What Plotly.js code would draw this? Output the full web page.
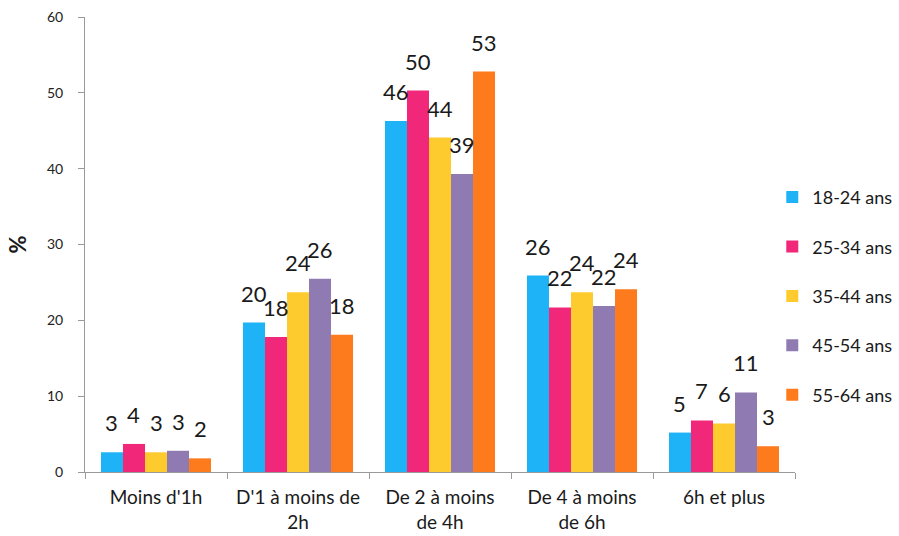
<!DOCTYPE html>
<html>
<head>
<meta charset="utf-8">
<script src="https://cdn.plot.ly/plotly-3.0.1.min.js"></script>
<style>html,body{margin:0;padding:0;background:#fff;}#chart{width:899px;height:536px;}</style>
</head>
<body>
<div id="chart"></div>
<script>
const categories = ["Moins d'1h", "D'1 à moins de<br>2h", "De 2 à moins<br>de 4h", "De 4 à moins<br>de 6h", "6h et plus"];
const seriesNames = ["18-24 ans", "25-34 ans", "35-44 ans", "45-54 ans", "55-64 ans"];
const v18_24 = [2.6, 19.7, 46.3, 25.9, 5.2];
const v25_34 = [3.7, 17.8, 50.3, 21.7, 6.8];
const v35_44 = [2.6, 23.7, 44.1, 23.7, 6.4];
const v45_54 = [2.8, 25.5, 39.3, 21.9, 10.5];
const v55_64 = [1.8, 18.1, 52.8, 24.1, 3.4];
const l18_24 = ["3", "20", "46", "26", "5"];
const l25_34 = ["4", "18", "50", "22", "7"];
const l35_44 = ["3", "24", "44", "24", "6"];
const l45_54 = ["3", "26", "39", "22", "11"];
const l55_64 = ["2", "18", "53", "24", "3"];
const yTicks = [0, 10, 20, 30, 40, 50, 60];

const values = [v18_24, v25_34, v35_44, v45_54, v55_64];
const labels = [l18_24, l25_34, l35_44, l45_54, l55_64];
const colors = ["#1db3f6", "#f1287a", "#fdcb2e", "#8f7bb1", "#fd7a1d"];
const FONT = "Lato, 'Open Sans', sans-serif";

const W = 899, H = 536;
const margin = {l: 85, r: 104, t: 17, b: 64, autoexpand: false};
const bargap = 0.225;
const catPx = (W - margin.l - margin.r) / categories.length;
const barPx = catPx * (1 - bargap) / seriesNames.length;

const traces = seriesNames.map((name, i) => ({
  type: "bar",
  name: name,
  x: categories,
  y: values[i],
  marker: {color: colors[i]},
  legendgroup: "g" + i,
  hoverinfo: "x+y+name"
}));

const annotations = [];
values.forEach((vals, i) => {
  vals.forEach((v, j) => {
    annotations.push({
      x: categories[j], y: v, xref: "x", yref: "y",
      text: labels[i][j], showarrow: false,
      xanchor: "center", yanchor: "bottom",
      xshift: (i - 2) * barPx, yshift: 14,
      font: {family: FONT, size: 22, color: "#1a1a1a"}
    });
  });
});

const layout = {
  width: W, height: H,
  margin: margin,
  paper_bgcolor: "#fff", plot_bgcolor: "#fff",
  barmode: "group", bargap: bargap, bargroupgap: 0,
  showlegend: true,
  legend: {
    x: 0.968, xanchor: "left", y: 0.387, yanchor: "middle",
    font: {family: FONT, size: 18, color: "#1a1a1a"},
    tracegroupgap: 23, bgcolor: "rgba(0,0,0,0)"
  },
  xaxis: {
    type: "category", automargin: false,
    showline: true, linecolor: "#9a9a9a", linewidth: 1,
    ticks: "outside", tickson: "boundaries", ticklen: 6, tickcolor: "#9a9a9a",
    ticklabelstandoff: 8,
    tickfont: {family: FONT, size: 19, color: "#1a1a1a"},
    showgrid: false, zeroline: false
  },
  yaxis: {
    range: [0, 60], tickvals: yTicks, automargin: false,
    showline: true, linecolor: "#9a9a9a", linewidth: 1,
    ticks: "outside", ticklen: 6, tickcolor: "#9a9a9a",
    ticklabelstandoff: 12,
    tickfont: {family: FONT, size: 14, color: "#222"},
    showgrid: false, zeroline: false,
    title: {text: "<b>%</b>", font: {family: FONT, size: 22, color: "#1a1a1a"}, standoff: 14}
  },
  annotations: annotations
};

Plotly.newPlot("chart", traces, layout, {displayModeBar: false, staticPlot: true});
</script>
</body>
</html>
